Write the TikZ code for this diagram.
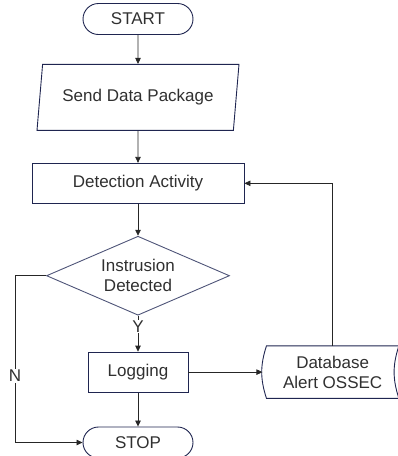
\documentclass[tikz,border=0pt]{standalone}
\usepackage{fontspec}
\setmainfont{Liberation Sans}
\usepackage{xcolor}
\usetikzlibrary{arrows.meta,positioning,shapes.geometric}
\definecolor{boxline}{HTML}{1F2550}
\definecolor{dialine}{HTML}{4E5478}
\definecolor{txt}{HTML}{303030}

\begin{document}
\begin{tikzpicture}[
    x=1pt, y=1pt,
    node distance=30pt,
    every node/.style={font=\fontsize{17}{20}\selectfont, text=txt},
    term/.style={rectangle, draw=boxline, rounded corners=15.5pt,
                 minimum width=110pt, minimum height=31pt, line width=0.9pt},
    io/.style={trapezium, trapezium left angle=76, trapezium right angle=104,
               trapezium stretches body=true,
               draw=boxline, minimum width=202pt, minimum height=66pt, line width=0.9pt},
    box/.style={rectangle, draw=boxline, minimum height=40pt, line width=0.9pt},
    decision/.style={diamond, aspect=2.3, draw=dialine, align=center, inner sep=0pt,
                     minimum width=183pt, minimum height=79pt, line width=0.9pt},
    store/.style={rectangle, align=center, minimum width=132pt, minimum height=52pt},
    arrow/.style={-{Triangle[length=6pt,width=5.5pt]}, line width=0.8pt, draw=black!85},
    lbl/.style={fill=white, inner sep=1pt}
  ]
    \useasboundingbox (0,0) rectangle (397,-456);
    \node[term] (start) at (138,-19) {START};
    \node[io, below=29pt of start]  (send)   {Send Data Package};
    \node[box, minimum width=212pt, below=32pt of send] (detect) {Detection Activity};
    \node[decision, below=32pt of detect] (intr) {Instrusion\\Detected};
    \node[box, minimum width=100pt, below=36pt of intr] (log) {Logging};
    \node[term, below=34pt of log]   (stop)   {STOP};
    \node[store, right=78pt of log]  (db)     {Database\\Alert OSSEC};
    % stored data outline: convex left side, concave right side
    \draw[boxline, line width=0.9pt] (db.north west) to[bend right=18] (db.south west)
      -- (db.south east) to[bend left=18] (db.north east) -- cycle;
    \draw[arrow] (start)  -- (send);
    \draw[arrow] (send)   -- (detect);
    \draw[arrow] (detect) -- (intr);
    \draw[arrow] (intr)   -- node[lbl, pos=0.3] {Y} (log);
    \draw[arrow] (log)    -- (stop);
    \draw[arrow] (log)    -- ([xshift=-4pt]db.west);
    \draw[arrow] (db.north) |- (detect.east);
    \draw[arrow] (intr.west) -- ++(-31,0) |- node[lbl, pos=0.3] {N} (stop.west);
  \end{tikzpicture}
\end{document}
